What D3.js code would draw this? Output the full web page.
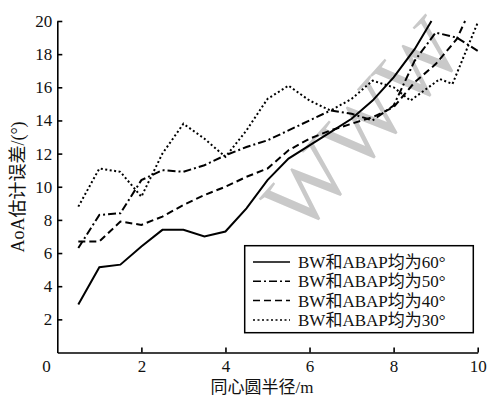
<!DOCTYPE html>
<html><head><meta charset="utf-8">
<script src="https://cdn.jsdelivr.net/npm/d3@7"></script>
<style>body{margin:0;background:#fff}</style>
</head><body>
<svg id="c" width="487" height="400"></svg>
<script>
// ---- data ----
const x60 = [0.5,1.0,1.5,2.0,2.5,3.0,3.5,4.0,4.5,5.0,5.5,6.0,6.5,7.0,7.5,8.0,8.5,8.9];
const y60 = [2.9,5.15,5.3,6.4,7.4,7.4,7.0,7.3,8.7,10.4,11.7,12.5,13.3,14.1,15.2,16.6,18.3,20.0];
const x50 = [0.5,1.0,1.5,2.0,2.5,3.0,3.5,4.0,4.5,5.0,5.5,6.0,6.5,7.0,7.5,8.0,8.5,9.0,9.5,10.0];
const y50 = [6.3,8.3,8.4,10.4,11.0,10.9,11.3,11.9,12.4,12.8,13.4,14.0,14.6,14.4,14.0,14.9,17.6,19.3,19.0,18.2];
const x40 = [0.5,1.0,1.5,2.0,2.5,3.0,3.5,4.0,4.5,5.0,5.5,6.0,6.5,7.0,7.5,8.0,8.5,9.0,9.5,9.7];
const y40 = [6.7,6.7,7.9,7.7,8.2,8.9,9.5,10.0,10.6,11.1,12.2,12.9,13.4,13.8,14.2,14.8,16.3,17.4,18.9,20.0];
const x30 = [0.5,1.0,1.5,2.0,2.5,3.0,3.5,4.0,4.5,5.0,5.5,6.0,6.5,7.0,7.5,8.0,8.4,9.1,9.4,10.0];
const y30 = [8.8,11.1,10.9,9.4,12.0,13.8,12.9,11.8,13.4,15.3,16.1,15.2,14.6,15.3,16.4,16.0,15.2,16.5,16.2,19.9];
const seriesNames = ["BW和ABAP均为60°","BW和ABAP均为50°","BW和ABAP均为40°","BW和ABAP均为30°"];
const xTicks = [2,4,6,8,10];
const yTicks = [2,4,6,8,10,12,14,16,18,20];
const xTitle = "同心圆半径/m";
const yTitle = "AoA估计误差/(°)";
const watermark = "WWW";

const series = [
  {name: seriesNames[0], xs: x60, ys: y60, dash: null},
  {name: seriesNames[1], xs: x50, ys: y50, dash: "8,3,2,3"},
  {name: seriesNames[2], xs: x40, ys: y40, dash: "7,4"},
  {name: seriesNames[3], xs: x30, ys: y30, dash: "2,2.5"}
];

const FONT = "'Liberation Serif','Times New Roman','Noto Sans CJK SC',serif";
const svg = d3.select("#c");
const x = d3.scaleLinear().domain([0,10]).range([57.3,477.7]);
const y = d3.scaleLinear().domain([0,20]).range([352.5,21]);

// watermark
svg.append("text")
  .attr("transform","translate(362,124) rotate(-48)")
  .attr("text-anchor","middle").attr("dy","0.35em")
  .attr("font-family",FONT).attr("font-size",88)
  .attr("fill","#c9c9c9").text(watermark);

// axes
const gx = svg.append("g").attr("transform",`translate(0,${y(0)})`)
  .call(d3.axisBottom(x).tickValues(xTicks).tickSize(-5).tickSizeOuter(0).tickPadding(7).tickFormat(d3.format("d")));
const gy = svg.append("g").attr("transform",`translate(${x(0)},0)`)
  .call(d3.axisLeft(y).tickValues(yTicks).tickSize(-5).tickSizeOuter(0).tickPadding(5).tickFormat(d3.format("d")));
[gx,gy].forEach(g=>{
  g.selectAll("path,line").attr("stroke","#000").attr("stroke-width",1.6);
  g.selectAll("text").attr("font-family",FONT).attr("font-size",17).attr("fill","#111");
});
svg.append("text").attr("x",46.5).attr("y",y(0)+7).attr("dy","0.71em")
  .attr("text-anchor","middle").attr("font-family",FONT).attr("font-size",17).attr("fill","#111").text("0");

// titles
svg.append("text").attr("x",262).attr("y",393).attr("text-anchor","middle")
  .attr("font-family",FONT).attr("font-size",17).attr("fill","#111").text(xTitle);
svg.append("text").attr("transform","translate(24,187) rotate(-90)").attr("text-anchor","middle")
  .attr("font-family",FONT).attr("font-size",18).attr("fill","#111").text(yTitle);

// lines
const line = d3.line().x(d=>x(d[0])).y(d=>y(d[1]));
series.forEach(s=>{
  svg.append("path").datum(s.xs.map((v,i)=>[v,s.ys[i]]))
    .attr("d",line).attr("fill","none").attr("stroke","#000")
    .attr("stroke-width",2).attr("stroke-dasharray",s.dash);
});

// legend
const lg = svg.append("g");
lg.append("rect").attr("x",244.7).attr("y",245.7).attr("width",228.6).attr("height",87)
  .attr("fill","#fff").attr("stroke","#000").attr("stroke-width",1.5);
series.forEach((s,i)=>{
  const yy = 262 + i*19.3;
  lg.append("line").attr("x1",253).attr("x2",290).attr("y1",yy).attr("y2",yy)
    .attr("stroke","#000").attr("stroke-width",1.5).attr("stroke-dasharray",s.dash);
  lg.append("text").attr("x",298).attr("y",yy).attr("dy","0.35em")
    .attr("font-family",FONT).attr("font-size",17).attr("fill","#111").text(s.name);
});
</script>
</body></html>
